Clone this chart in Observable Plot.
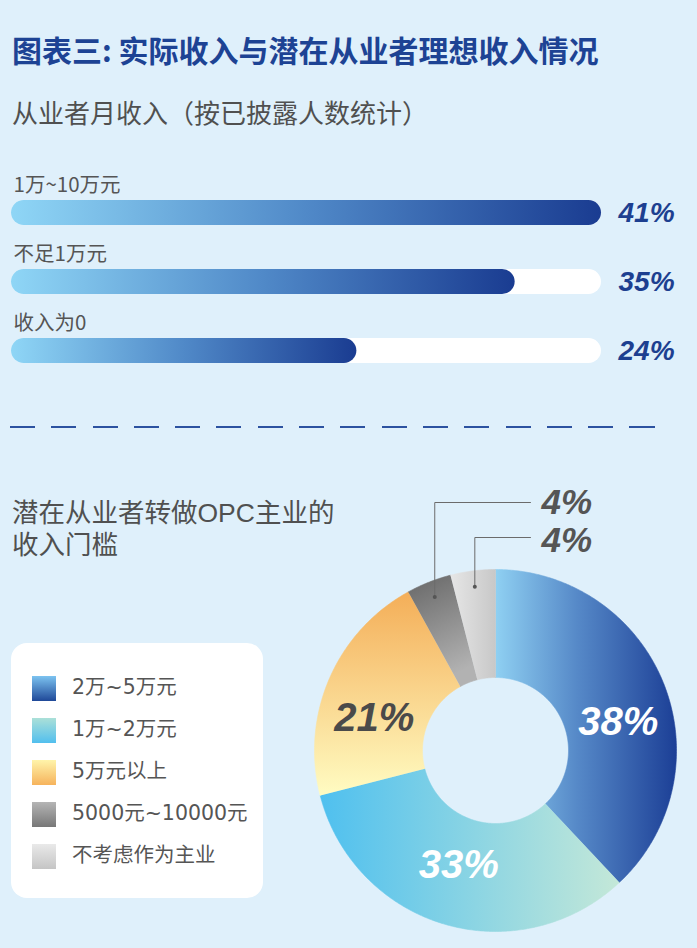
<!DOCTYPE html>
<html>
<head>
<meta charset="utf-8">
<script src="https://cdn.jsdelivr.net/npm/d3@7"></script>
<script src="https://cdn.jsdelivr.net/npm/@observablehq/plot@0.6"></script>
<style>
  html, body { margin: 0; padding: 0; background: #dff0fb; }
  #root { position: relative; width: 697px; height: 948px; overflow: hidden; background: #dff0fb;
          font-family: "Noto Sans CJK SC", "Noto Sans", sans-serif; }
  .abs { position: absolute; white-space: nowrap; }
  #title { left: 12px; top: 34px; font-size: 30px; line-height: 30px; font-weight: 700; color: #1d4394; }
  #subtitle { left: 12px; top: 99px; font-size: 26px; line-height: 26px; color: #505050; }
  #dash { left: 10px; top: 426px; width: 645px; height: 2px;
          background: repeating-linear-gradient(to right, #2c52a0 0 25px, transparent 25px 41.3px); }
  .t2 { left: 12px; font-size: 26.5px; line-height: 32px; color: #505050;
        font-family: "Liberation Sans", "Noto Sans CJK SC", sans-serif; }
  #legend { left: 11px; top: 643px; width: 252px; height: 255px; background: #fff; border-radius: 16px; }
  .item { position: absolute; left: 21px; height: 24px; }
  .sw { position: absolute; left: 0; top: 0; width: 24px; height: 25px; }
  .lt { position: absolute; left: 40px; top: -1px; font-size: 20.5px; line-height: 24px; color: #555; white-space: nowrap;
        font-family: "DejaVu Sans", "Noto Sans CJK SC", sans-serif; }
  #bars { left: 0; top: 160px; }
  #donut { left: 300px; top: 460px; }
</style>
</head>
<body>
<svg width="0" height="0" style="position:absolute">
  <defs>
    <linearGradient id="barGrad" x1="0" y1="0" x2="1" y2="0">
      <stop offset="0" stop-color="#8fd6f6"/>
      <stop offset="0.5" stop-color="#5089c8"/>
      <stop offset="1" stop-color="#1a3c91"/>
    </linearGradient>
    <linearGradient id="s0" x1="0" y1="0" x2="1" y2="0">
      <stop offset="0" stop-color="#8fd0f2"/>
      <stop offset="0.45" stop-color="#5689c8"/>
      <stop offset="1" stop-color="#1c3f96"/>
    </linearGradient>
    <linearGradient id="s1" x1="0" y1="0" x2="1" y2="0">
      <stop offset="0" stop-color="#4fc0ef"/>
      <stop offset="1" stop-color="#c4e8d8"/>
    </linearGradient>
    <linearGradient id="s2" x1="0" y1="0" x2="0" y2="1">
      <stop offset="0" stop-color="#f4ae58"/>
      <stop offset="1" stop-color="#fffcc2"/>
    </linearGradient>
    <linearGradient id="s3" x1="0" y1="0" x2="0.3" y2="1">
      <stop offset="0" stop-color="#666666"/>
      <stop offset="1" stop-color="#b2b2b2"/>
    </linearGradient>
    <linearGradient id="s4" x1="0" y1="0" x2="1" y2="0">
      <stop offset="0" stop-color="#e6e6e6"/>
      <stop offset="1" stop-color="#c8c8c8"/>
    </linearGradient>
  </defs>
</svg>
<div id="root">
  <div id="title" class="abs"></div>
  <div id="subtitle" class="abs"></div>
  <div id="bars" class="abs"></div>
  <div id="dash" class="abs"></div>
  <div id="t2a" class="abs t2" style="top:497px"></div>
  <div id="t2b" class="abs t2" style="top:529px"></div>
  <div id="legend" class="abs"></div>
  <div id="donut" class="abs"></div>
</div>
<script>
// ---- data ----
const chartTitle = "图表三: 实际收入与潜在从业者理想收入情况";
const barTitle = "从业者月收入（按已披露人数统计）";
const donutTitle = ["潜在从业者转做OPC主业的", "收入门槛"];
const incomeCategories = ["1万~10万元", "不足1万元", "收入为0"];
const incomeShares = [41, 35, 24];
const thresholdCategories = ["2万~5万元", "1万~2万元", "5万元以上", "5000元~10000元", "不考虑作为主业"];
const thresholdShares = [38, 33, 21, 4, 4];

// ---- styles ----
const sliceFills = ["url(#s0)", "url(#s1)", "url(#s2)", "url(#s3)", "url(#s4)"];
const sliceLabelColors = ["#ffffff", "#ffffff", "#4a4a4a"];
const legendSwatches = [
  "linear-gradient(#7cc3f0, #1f4898)",
  "linear-gradient(#abe0d8, #52bfee)",
  "linear-gradient(#fff4aa, #f6b35c)",
  "linear-gradient(#b5b5b5, #777777)",
  "linear-gradient(#e9e9e9, #c5c5c5)"
];
const CJK = '"Noto Sans CJK SC", "Noto Sans", sans-serif';
const LATIN = '"Liberation Sans", Arial, Helvetica, sans-serif';

document.getElementById("title").textContent = chartTitle;
document.getElementById("subtitle").textContent = barTitle;
document.getElementById("t2a").textContent = donutTitle[0];
document.getElementById("t2b").textContent = donutTitle[1];

// ---- bar chart ----
const incomeRows = incomeCategories.map((category, i) => ({category, share: incomeShares[i]}));
const maxShare = d3.max(incomeShares);
const barChart = Plot.plot({
  width: 697,
  height: 240,
  margin: 0,
  style: {background: "transparent", fontFamily: CJK, overflow: "visible"},
  x: {domain: [0, maxShare], range: [11, 601], axis: null},
  y: {domain: incomeCategories, range: [18, 225], padding: 0, axis: null},
  marks: [
    Plot.barX(incomeRows, {x1: 0, x2: () => maxShare, y: "category", fill: "white", rx: 12.5, insetTop: 22, insetBottom: 22}),
    Plot.barX(incomeRows, {x1: 0, x2: "share", y: "category", fill: "url(#barGrad)", rx: 12.5, insetTop: 22, insetBottom: 22}),
    Plot.text(incomeRows, {x: 0, y: "category", text: "category", textAnchor: "start", dx: 2, dy: -28,
      fontSize: 20.5, fill: "#555", fontFamily: CJK}),
    Plot.text(incomeRows, {x: () => maxShare, y: "category", text: d => d.share + "%", textAnchor: "start", dx: 17,
      fontSize: 28, fontWeight: "bold", fontStyle: "italic", fill: "#1d3f90", fontFamily: LATIN})
  ]
});
document.getElementById("bars").appendChild(barChart);

// ---- legend ----
const legend = document.getElementById("legend");
thresholdCategories.forEach((c, i) => {
  const it = document.createElement("div");
  it.className = "item";
  it.style.top = (33 + 42 * i) + "px";
  const sw = document.createElement("div");
  sw.className = "sw";
  sw.style.background = legendSwatches[i];
  const t = document.createElement("div");
  t.className = "lt";
  t.textContent = c;
  it.appendChild(sw); it.appendChild(t);
  legend.appendChild(it);
});

// ---- donut ----
const R0 = 73, R1 = 181, RLX = 132, RLY = 127, RD = 165;
const pie = d3.pie().sort(null).value(d => d)(thresholdShares);
const slicePolys = pie.map(p => {
  const pts = [];
  const n = Math.max(2, Math.ceil((p.endAngle - p.startAngle) / (Math.PI / 360)));
  for (let k = 0; k <= n; k++) {
    const a = p.startAngle + (p.endAngle - p.startAngle) * k / n;
    pts.push({x: R1 * Math.sin(a), y: R1 * Math.cos(a)});
  }
  for (let k = n; k >= 0; k--) {
    const a = p.startAngle + (p.endAngle - p.startAngle) * k / n;
    pts.push({x: R0 * Math.sin(a), y: R0 * Math.cos(a)});
  }
  return pts;
});
const mid = p => (p.startAngle + p.endAngle) / 2;
const bigLabels = pie.slice(0, 3).map((p, i) => ({
  x: RLX * Math.sin(mid(p)), y: RLY * Math.cos(mid(p)), text: thresholdShares[i] + "%", color: sliceLabelColors[i]
}));
// leader lines for the two small slices
const leaderLevels = [248, 213];   // px above centre
const leaderEndX = 35;
const smallMarks = [];
[3, 4].forEach((idx, j) => {
  const p = pie[idx];
  const dx = RD * Math.sin(mid(p)), dy = RD * Math.cos(mid(p));
  const path = [{x: dx, y: dy}, {x: dx, y: leaderLevels[j]}, {x: leaderEndX, y: leaderLevels[j]}];
  smallMarks.push(Plot.line(path, {x: "x", y: "y", stroke: "#6b6b6b", strokeWidth: 1}));
  smallMarks.push(Plot.dot([path[0]], {x: "x", y: "y", r: 2, fill: "#555", stroke: "none"}));
  smallMarks.push(Plot.text([{x: leaderEndX, y: leaderLevels[j], text: thresholdShares[idx] + "%"}],
    {x: "x", y: "y", text: "text", textAnchor: "start", dx: 11, dy: j === 1 ? 3 : 0,
     fontSize: 35, fontWeight: "bold", fontStyle: "italic", fill: "#555", fontFamily: LATIN}));
});

const donut = Plot.plot({
  width: 397,
  height: 488,
  margin: 0,
  style: {background: "transparent", fontFamily: CJK, overflow: "visible"},
  x: {domain: [-195, 202], range: [0, 397], axis: null},
  y: {domain: [-198, 290], range: [488, 0], axis: null},
  marks: [
    ...slicePolys.map((pts, i) => Plot.line(pts, {x: "x", y: "y", fill: sliceFills[i], stroke: sliceFills[i], strokeWidth: 0.6})),
    ...bigLabels.map(d => Plot.text([d], {x: "x", y: "y", text: "text", fill: d.color, dy: d.y > 0 ? 18 : -7,
      fontSize: 40, fontWeight: "bold", fontStyle: "italic", fontFamily: LATIN})),
    ...smallMarks
  ]
});
document.getElementById("donut").appendChild(donut);
</script>
</body>
</html>
